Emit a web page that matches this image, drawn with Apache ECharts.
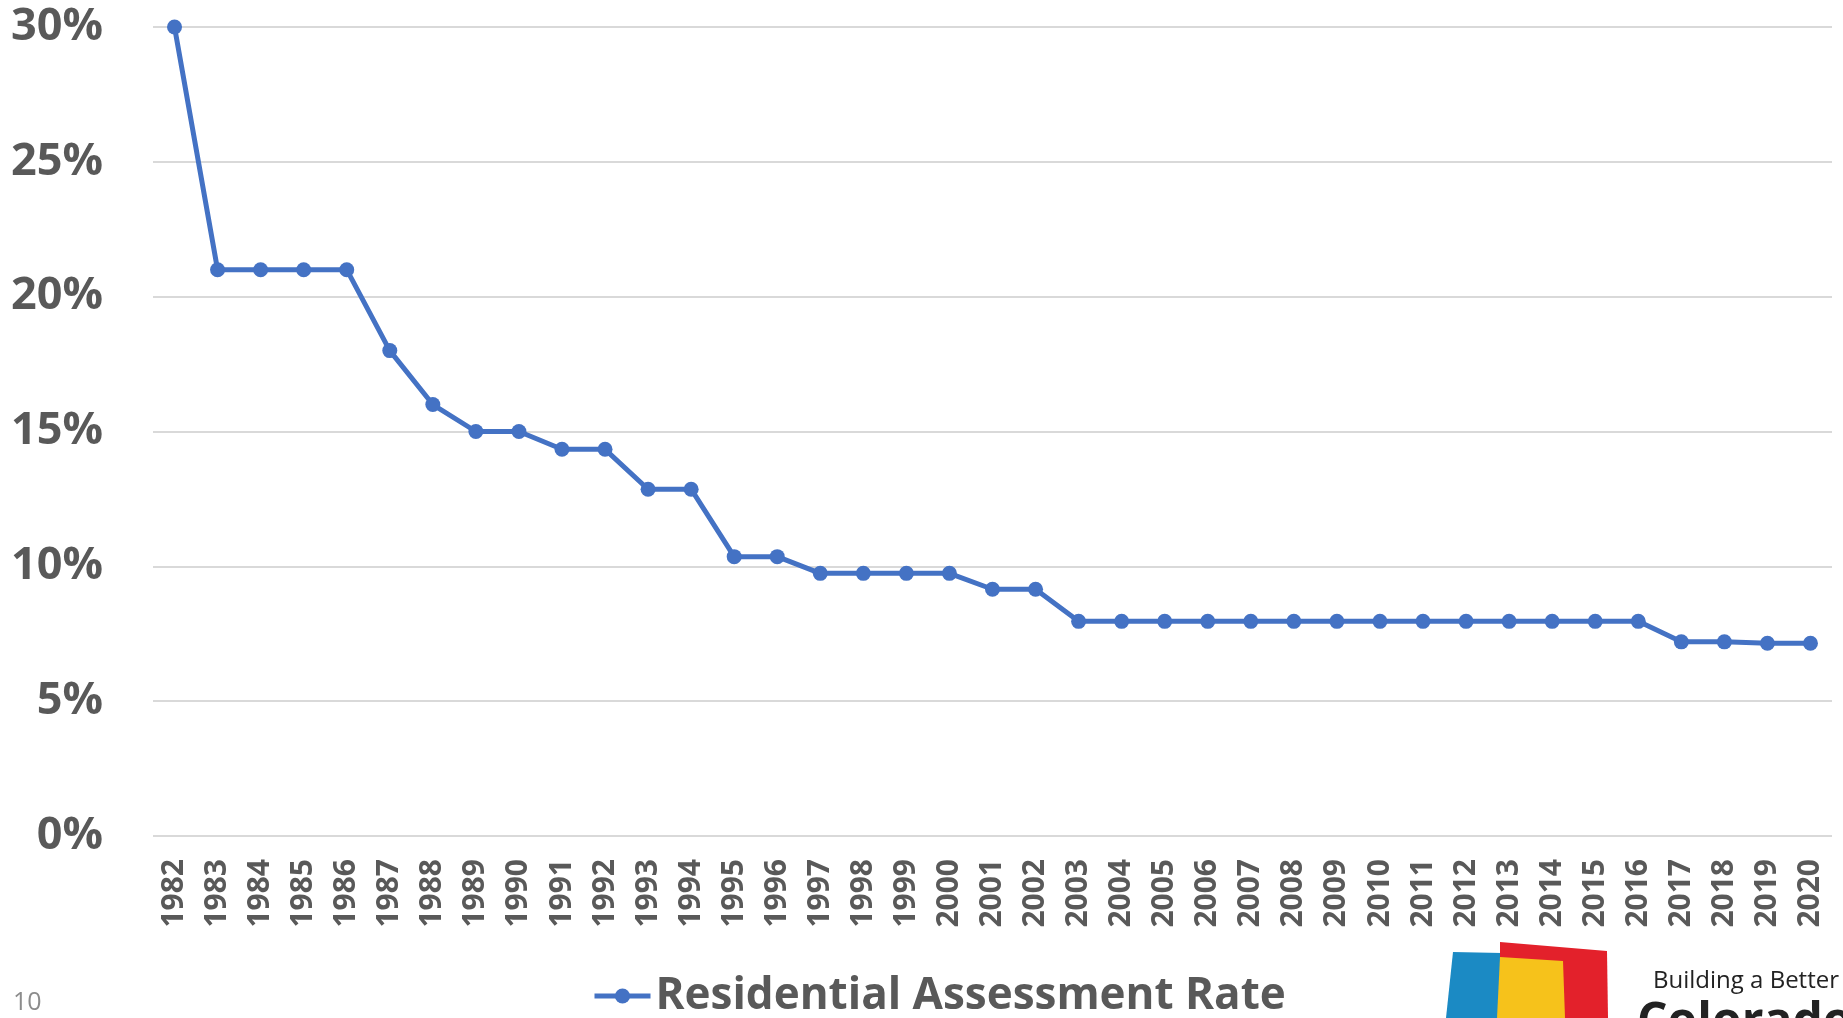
<!DOCTYPE html>
<html>
<head>
<meta charset="utf-8">
<title>Residential Assessment Rate</title>
<script src="https://cdn.jsdelivr.net/npm/echarts@6/dist/echarts.min.js"></script>
<style>
  html, body { margin: 0; padding: 0; background: #fff; }
  #chart { width: 1843px; height: 1018px; }
</style>
</head>
<body>
<div id="chart"></div>
<script>
// years on the x axis
let years = ['1982','1983','1984','1985','1986','1987','1988','1989','1990','1991',
             '1992','1993','1994','1995','1996','1997','1998','1999','2000','2001',
             '2002','2003','2004','2005','2006','2007','2008','2009','2010','2011',
             '2012','2013','2014','2015','2016','2017','2018','2019','2020'];
// residential assessment rate, in %
let rates = [30, 21, 21, 21, 21, 18, 16, 15, 15, 14.34,
             14.34, 12.86, 12.86, 10.36, 10.36, 9.74, 9.74, 9.74, 9.74, 9.15,
             9.15, 7.96, 7.96, 7.96, 7.96, 7.96, 7.96, 7.96, 7.96, 7.96,
             7.96, 7.96, 7.96, 7.96, 7.96, 7.20, 7.20, 7.15, 7.15];
let seriesName = 'Residential Assessment Rate';
let pageNumber = '10';

let labelFont = '"Open Sans", "Noto Sans", sans-serif';
let grey = '#595959';
let blue = '#4472c4';

let chart = echarts.init(document.getElementById('chart'));

let option = {
    animation: false,
    backgroundColor: '#fff',
    grid: {
        left: 153,
        right: 11,
        top: 27,
        bottom: 182,
        containLabel: false
    },
    legend: {
        data: [seriesName],
        left: 587,
        top: 969,
        itemWidth: 56,
        itemHeight: 19,
        itemGap: 6,
        lineStyle: { width: 5, color: blue },
        itemStyle: { color: blue },
        textStyle: {
            color: grey,
            fontFamily: labelFont,
            fontWeight: 'bold',
            fontSize: 44
        }
    },
    xAxis: {
        type: 'category',
        data: years,
        boundaryGap: true,
        axisLine: { show: false },
        axisTick: { show: false },
        axisLabel: {
            rotate: 90,
            margin: 23,
            interval: 0,
            color: grey,
            fontFamily: labelFont,
            fontWeight: 'bold',
            fontSize: 30
        }
    },
    yAxis: {
        type: 'value',
        min: 0,
        max: 30,
        interval: 5,
        axisLine: { show: false },
        axisTick: { show: false },
        axisLabel: {
            margin: 50,
            color: grey,
            fontFamily: labelFont,
            fontWeight: 'bold',
            fontSize: 45,
            formatter: '{value}%'
        },
        splitLine: {
            lineStyle: { color: '#d9d9d9', width: 2 }
        }
    },
    series: [{
        name: seriesName,
        type: 'line',
        data: rates,
        symbol: 'circle',
        symbolSize: 15,
        lineStyle: { color: blue, width: 5 },
        itemStyle: { color: blue }
    }],
    graphic: [
        {
            type: 'text',
            left: 13,
            top: 990,
            style: { text: pageNumber, fill: '#8c8c8c', font: '25px "Open Sans", sans-serif' }
        },
        // logo squares
        {
            type: 'polygon',
            shape: { points: [[1453, 952], [1502, 953], [1502, 1018], [1446, 1018]] },
            style: { fill: '#1b8ac4' }
        },
        {
            type: 'polygon',
            shape: { points: [[1500, 942], [1607, 951], [1608, 1018], [1500, 1018]] },
            style: { fill: '#e3212b' }
        },
        {
            type: 'polygon',
            shape: { points: [[1500, 957], [1563, 961], [1565, 1018], [1497, 1018]] },
            style: { fill: '#f6c21b' }
        },
        {
            type: 'text',
            left: 1653,
            top: 969,
            style: { text: 'Building a Better', fill: '#222', font: '24px "Open Sans", sans-serif' }
        },
        {
            type: 'text',
            left: 1637,
            top: 999,
            style: { text: 'Colorado', fill: '#222', font: 'bold 48px "Open Sans", sans-serif' }
        }
    ]
};

chart.setOption(option);

window.onresize = function () {
    chart.resize();
};
</script>
</body>
</html>
